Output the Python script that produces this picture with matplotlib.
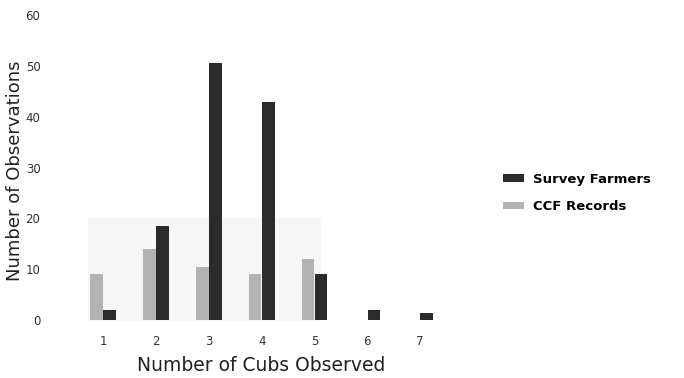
import matplotlib.pyplot as plt
import numpy as np

plt.rcParams['font.family'] = ['DejaVu Sans']

cubs = ['1', '2', '3', '4', '5', '6', '7']
ccf_records = [9, 14, 10.5, 9, 12, 0, 0]
survey_farmers = [2, 18.5, 50.5, 43, 9, 2, 1.5]

x = np.arange(1, len(cubs) + 1)
w = 0.24

fig = plt.figure(figsize=(6.84, 3.78), dpi=100)
ax = fig.add_axes([0.112, 0.153, 0.541, 0.807])

# faint scan shading behind the lower bars
ax.fill_between([0.72, 5.1], 0, 20, color='#f7f7f7', zorder=0)

ax.bar(x + 0.125, survey_farmers, w, color='#2b2b2b', label='Survey Farmers', zorder=2)
ax.bar(x - 0.125, ccf_records, w, color='#b3b3b3', label='CCF Records', zorder=2)

ax.set_xlim(0.5, 7.5)
ax.set_ylim(0, 60)
ax.set_xticks(x)
ax.set_xticklabels(cubs, fontsize=8.5, color='#333333')
ax.set_yticks(range(0, 61, 10))
ax.tick_params(axis='y', length=0, pad=26, labelsize=8.5, labelcolor='#333333')
ax.tick_params(axis='x', length=0, pad=11)
for s in ax.spines.values():
    s.set_visible(False)

ax.set_xlabel('Number of Cubs Observed', fontsize=13.5, color='#222222')
ax.xaxis.set_label_coords(0.5, -0.118)
ax.set_ylabel('Number of Observations', fontsize=13, color='#222222')
ax.yaxis.set_label_coords(-0.142, 0.49)

fig.legend(loc='center left', bbox_to_anchor=(0.718, 0.49), frameon=False,
           prop={'size': 9.5, 'weight': 'bold'}, handlelength=1.6, handleheight=0.5,
           handletextpad=0.7, labelspacing=1.1)

fig.savefig('out.png', dpi=100)
